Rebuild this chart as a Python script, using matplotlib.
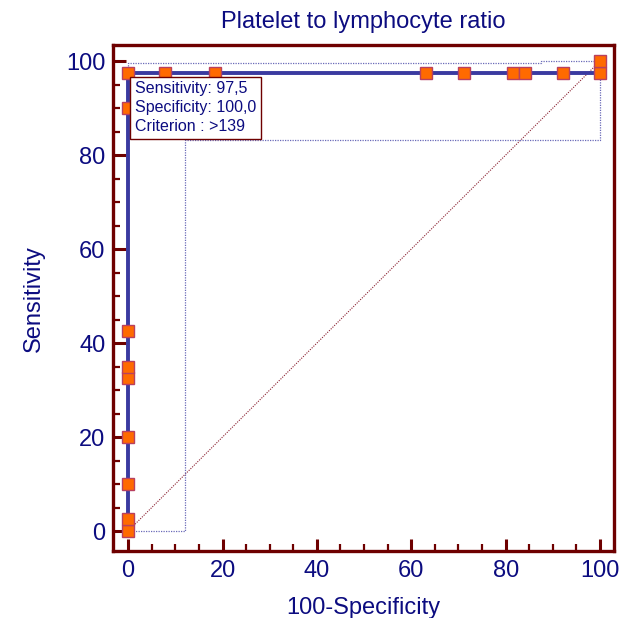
import numpy as np
import matplotlib.pyplot as plt
from matplotlib.ticker import MultipleLocator

plt.rcParams['font.family'] = ['Liberation Sans', 'DejaVu Sans']

# ROC points (100-specificity, sensitivity)
fpr = [0, 0, 0, 0, 0, 0, 0, 0, 0, 7.9, 18.4, 63.2, 71.1, 81.6, 84.2, 92.1, 100, 100]
tpr = [0, 2.5, 10, 20, 32.5, 35, 42.5, 90, 97.5, 97.5, 97.5, 97.5, 97.5, 97.5, 97.5, 97.5, 97.5, 100]

# confidence bounds (dotted)
up_x = [0, 0, 87.6, 87.6, 100]
up_y = [0, 99.6, 99.6, 100, 100]
lo_x = [0, 12.1, 12.1, 100, 100]
lo_y = [0, 0, 83.3, 83.3, 97.5]

info = "Sensitivity: 97,5\nSpecificity: 100,0\nCriterion : >139"

navy = "#0c0c80"
red = "#6e0000"
blue = "#3a3aa0"

fig = plt.figure(figsize=(6.21, 6.18), dpi=100)
ax = fig.add_axes([0.182, 0.108, 0.807, 0.819])

ax.plot([0, 100], [0, 100], ls=(0, (1, 1.2)), color="#8a2030", lw=0.8)
ax.plot(up_x, up_y, ls=(0, (1, 1)), color="#6a6ab8", lw=0.9)
ax.plot(lo_x, lo_y, ls=(0, (1, 1)), color="#6a6ab8", lw=0.9)
ax.plot(fpr, tpr, color=blue, lw=2.8, zorder=3)
ax.plot(fpr, tpr, ls="none", marker="s", ms=8.5, mfc="#ff6a00", mec="#b84060", mew=1.0, zorder=4)

ax.text(1.4, 95.7, info, transform=ax.transData, ha="left", va="top", color=navy, fontsize=11.5,
        linespacing=1.32,
        bbox=dict(boxstyle="square,pad=0.3", fc="white", ec=red, lw=1.0), zorder=5)

ax.set_xlim(-3.2, 103)
ax.set_ylim(-4.3, 103.4)
ax.xaxis.set_major_locator(MultipleLocator(20))
ax.yaxis.set_major_locator(MultipleLocator(20))
ax.xaxis.set_minor_locator(MultipleLocator(5))
ax.yaxis.set_minor_locator(MultipleLocator(5))
ax.tick_params(which="major", direction="in", length=9, width=2.2, color=red,
               labelsize=17, labelcolor=navy, pad=5.5)
ax.tick_params(which="minor", direction="in", length=5, width=1.6, color=red)
ax.tick_params(axis="x", pad=6)
for s in ax.spines.values():
    s.set_color(red)
    s.set_linewidth(2.4)

ax.set_title("Platelet to lymphocyte ratio", color=navy, fontsize=17, pad=12)
ax.set_xlabel("100-Specificity", color=navy, fontsize=17, labelpad=11)
ax.set_ylabel("Sensitivity", color=navy, fontsize=17, labelpad=15)

fig.savefig("out.png", dpi=100)
